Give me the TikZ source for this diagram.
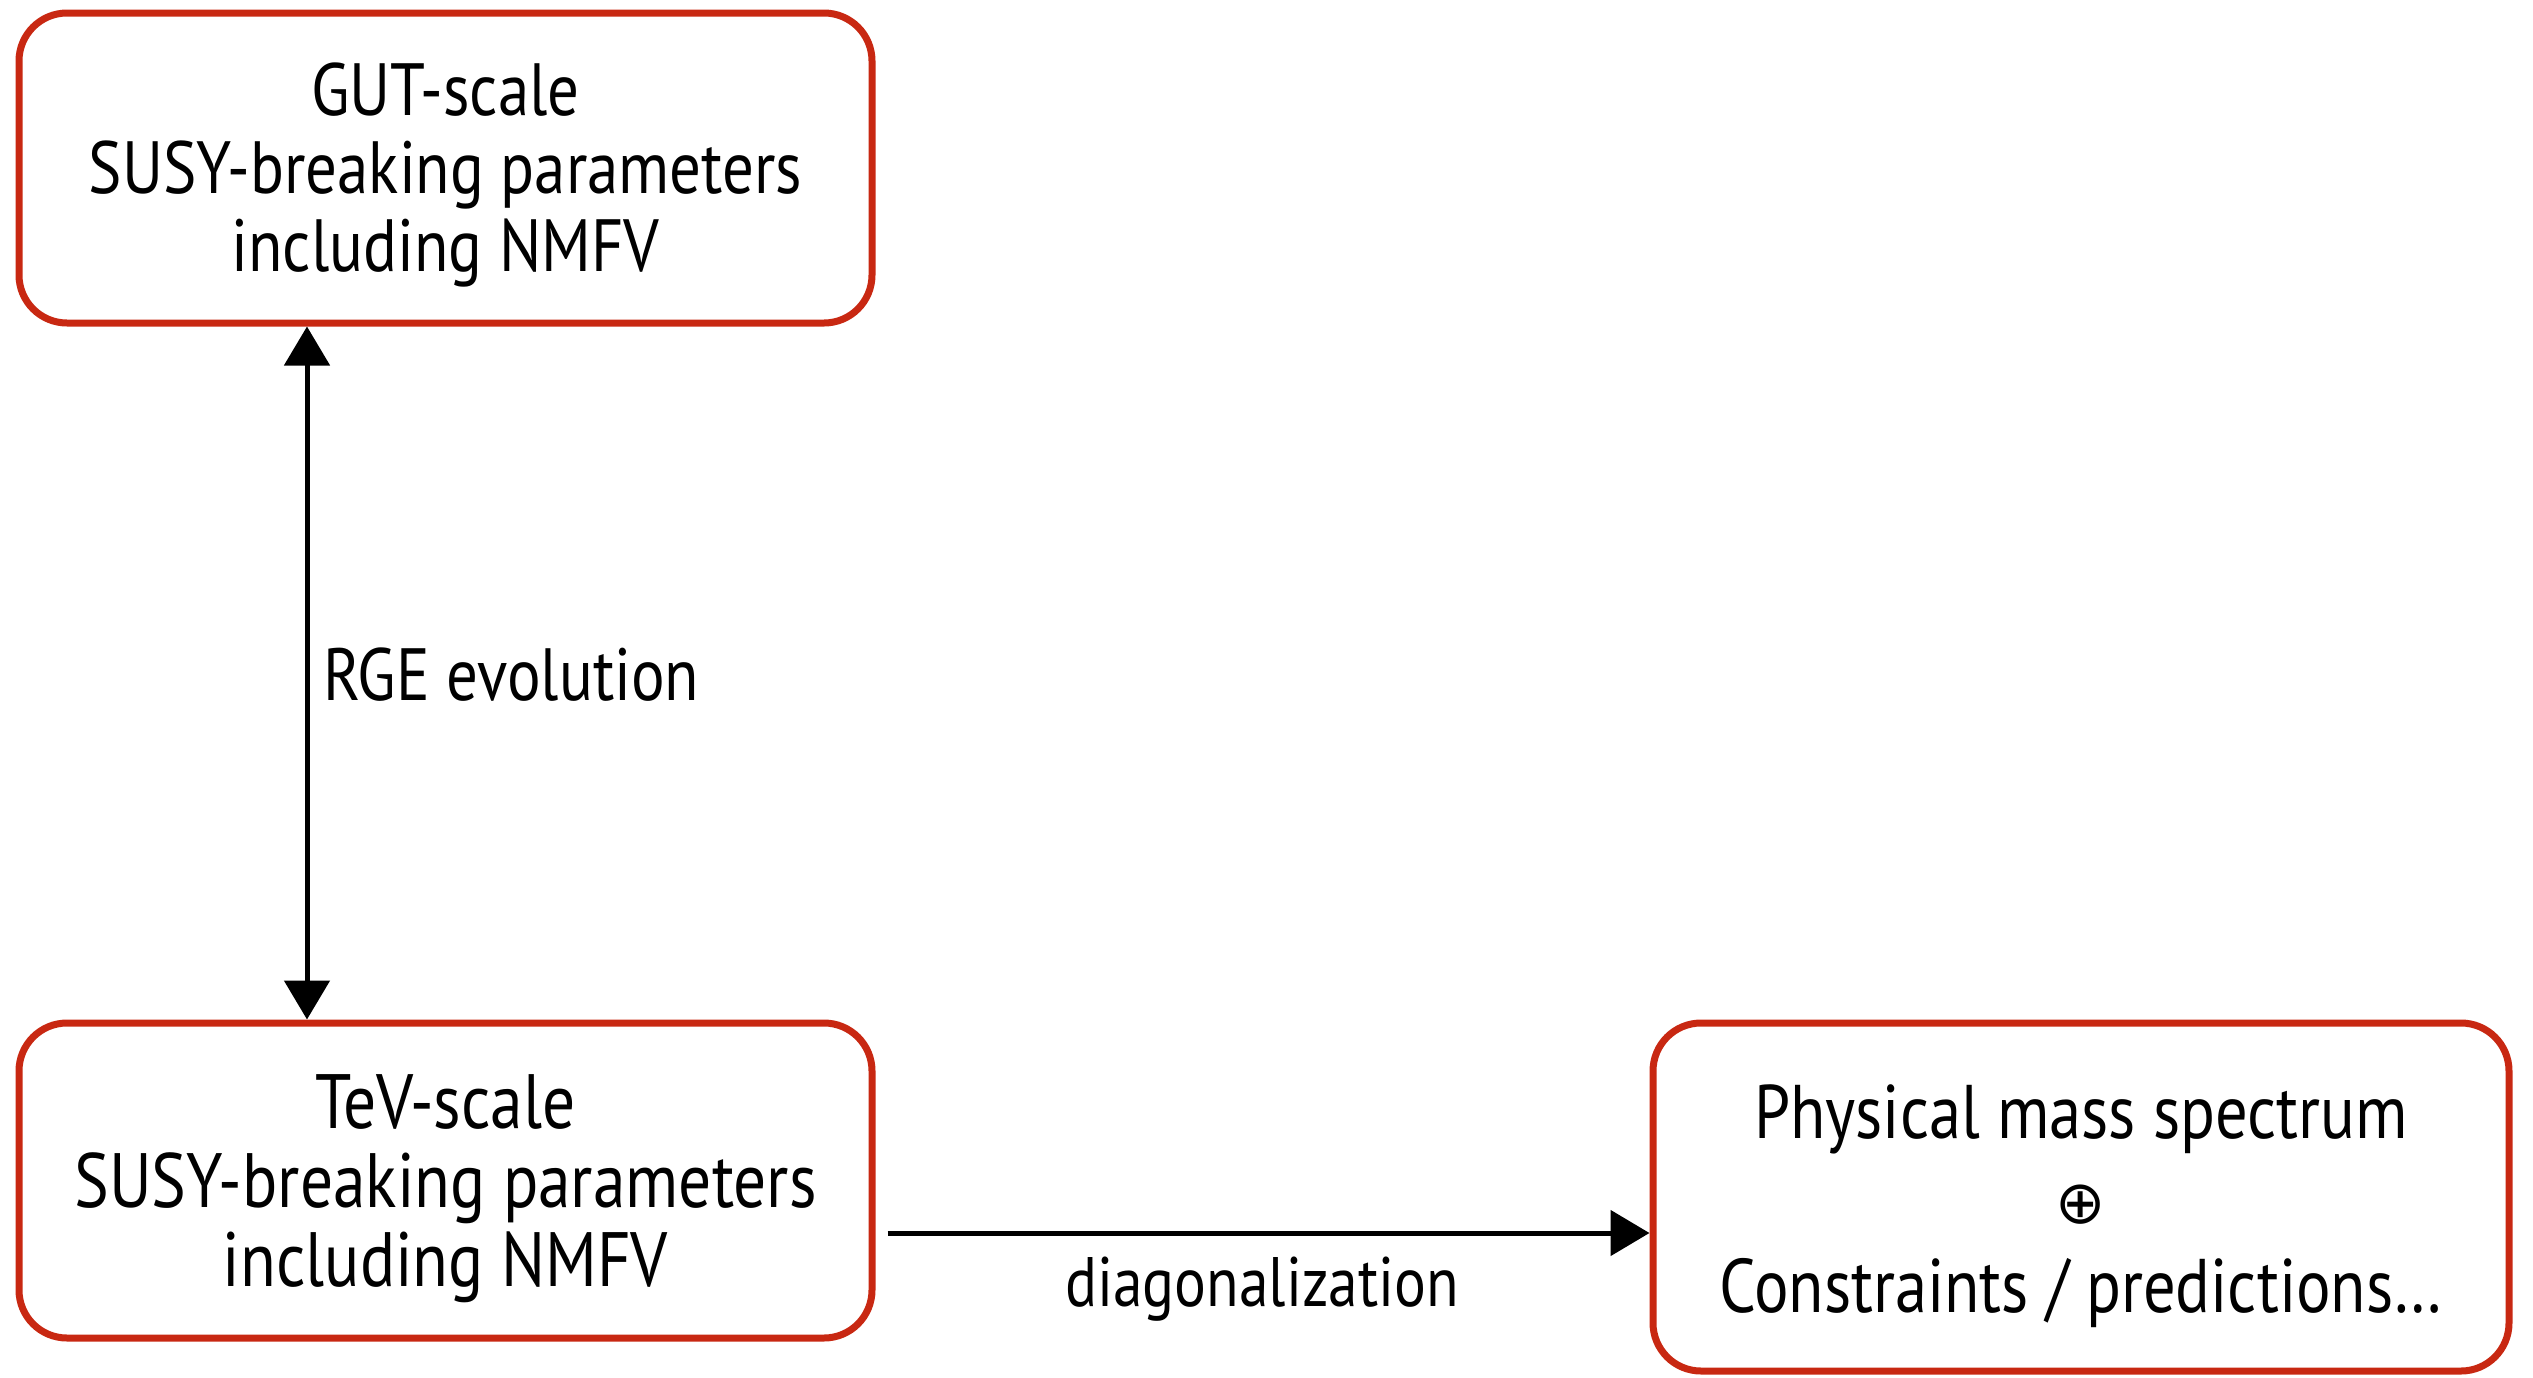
\documentclass[tikz,border=0pt]{standalone}
\usepackage{fontspec}
\setmainfont{PT Sans}[FakeStretch=0.85]
\newfontfamily\symfont{DejaVu Sans}
\usetikzlibrary{arrows.meta}
\definecolor{boxred}{RGB}{200,40,18}
\newcommand{\lowered}[2]{\raisebox{-#1}[\height][\depth]{#2}}
\tikzset{
  sbox/.style={draw=boxred, line width=7pt, rounded corners=48pt, fill=white,
    align=center, inner sep=0pt},
  conn/.style={line width=5pt, black, -{Triangle[length=39pt,width=45pt]}},
  lbl/.style={font=\fontsize{74}{78}\selectfont, inner sep=0pt}
}
\begin{document}
\begin{tikzpicture}[x=1pt,y=-1pt]
\useasboundingbox (0,0) rectangle (2533,1377);
\node[sbox, minimum width=853pt, minimum height=310pt] (gut) at (445.5,168)
  {\lowered{10pt}{\fontsize{74}{78}\selectfont\begin{tabular}{@{}c@{}}GUT-scale\\SUSY-breaking parameters\\including NMFV\end{tabular}}};
\node[sbox, minimum width=853pt, minimum height=315pt] (tev) at (445.5,1180.5)
  {\lowered{11pt}{\fontsize{77}{79}\selectfont\begin{tabular}{@{}c@{}}TeV-scale\\SUSY-breaking parameters\\including NMFV\end{tabular}}};
\node[sbox, minimum width=856pt, minimum height=348pt] (phys) at (2081,1197)
  {\lowered{12pt}{\fontsize{76}{80}\selectfont\begin{tabular}{@{}c@{}}Physical mass spectrum\\[5pt]{\fontsize{60}{60}\selectfont\symfont ⊕}\\[9pt]Constraints / predictions\ldots\end{tabular}}};
\coordinate (vx) at (307,600);
\draw[conn, {Triangle[length=39pt,width=45pt]}-{Triangle[length=39pt,width=45pt]}]
  (gut.south -| vx) -- (tev.north -| vx);
\node[lbl, anchor=west] (rge) at (323,675) {RGE evolution};
\coordinate (h) at ([yshift=-52.5pt]tev.east);
\draw[conn, shorten <=12pt] (h) -- (h -| phys.west);
\node[lbl, font=\fontsize{70}{74}\selectfont] (diag) at (1262,1289) {diagonalization};
\end{tikzpicture}
\end{document}
